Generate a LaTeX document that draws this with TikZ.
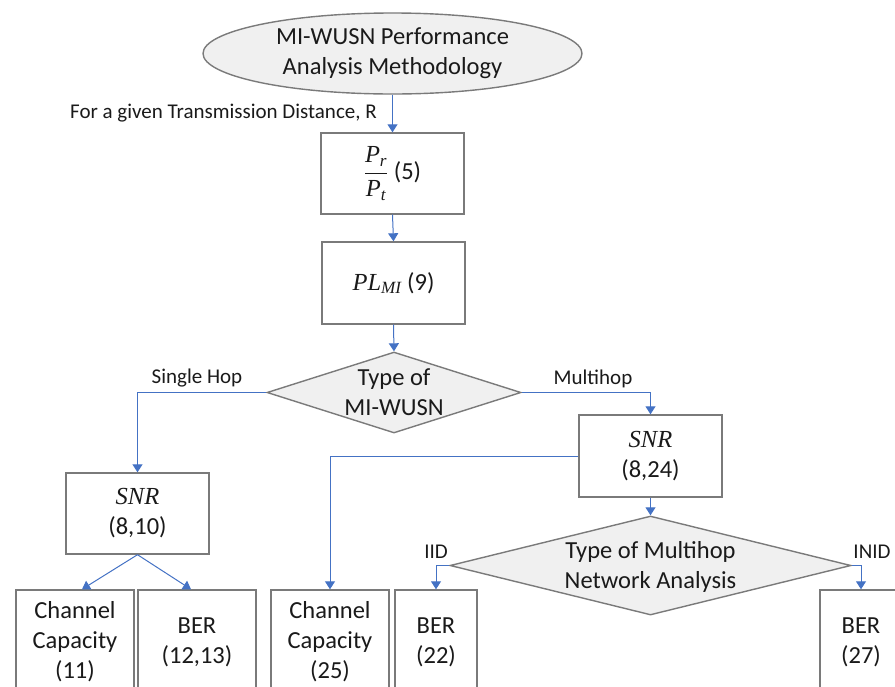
\documentclass[tikz,border=0pt]{standalone}
\usepackage{amsmath}
\usepackage{fontspec}
\setmainfont{Carlito}
\newfontfamily\symfont{Liberation Serif}
\usetikzlibrary{shapes.geometric,arrows.meta}

\definecolor{boxgray}{HTML}{7A7A7A}
\definecolor{shapefill}{HTML}{F0F0F0}
\definecolor{linkblue}{HTML}{4472C4}
\definecolor{inkblack}{HTML}{1A1A1A}

\newcommand{\mainsz}{\fontsize{24.5}{30}\selectfont}
\newcommand{\lblsz}{\fontsize{21}{25}\selectfont}
% italic serif letters for the quantities
\newcommand{\qv}[1]{\text{\symfont\itshape #1}}

\tikzset{
  shapeline/.style={draw=boxgray, line width=1.4pt},
  stepbox/.style={shapeline, rectangle, fill=white, inner sep=0pt, align=center,
    font=\mainsz, text=inkblack},
  startoval/.style={shapeline, ellipse, fill=shapefill, inner sep=0pt, align=center,
    font=\mainsz, text=inkblack, minimum width=379pt, minimum height=81pt},
  decision/.style={shapeline, diamond, fill=shapefill, inner sep=0pt},
  dtext/.style={align=center, font=\mainsz, text=inkblack, inner sep=0pt},
  edgelbl/.style={font=\lblsz, text=inkblack, inner sep=0pt, anchor=base},
  link/.style={draw=linkblue, line width=1pt, -{Triangle[width=10pt,length=8pt]}}
}

\begin{document}
\begin{tikzpicture}[x=1pt, y=-1pt]
  \useasboundingbox (0,0) rectangle (895,686);
  \clip (0,0) rectangle (895,686);

  % start of the method
  \node[startoval] (start) at (392.5,53.5) {MI-WUSN Performance\\Analysis Methodology};

  % received power ratio and path loss
  \node[stepbox, minimum width=143pt, minimum height=81pt] (ratio) at (392.5,173.5)
    {$\displaystyle\frac{\qv{P}_{\qv{r}}}{\qv{P}_{\qv{t}}}$ (5)};
  \node[stepbox, minimum width=143pt, minimum height=82pt] (loss) at (393.5,283)
    {$\qv{PL}_{\qv{MI}}$ (9)};

  % network type decision
  \node[decision, minimum width=254pt, minimum height=81pt] (kind) at (394,392.5) {};
  \node[dtext] (kindtxt) at (kind) {Type of\\MI-WUSN};

  % SNR blocks
  \node[stepbox, minimum width=143pt, minimum height=81pt] (snrone) at (137.5,513.5)
    {$\qv{SNR}$\\(8,10)};
  \node[stepbox, minimum width=143pt, minimum height=82pt] (snrmulti) at (650.5,456)
    {$\qv{SNR}$\\(8,24)};

  % multihop analysis decision
  \node[decision, minimum width=401pt, minimum height=99pt] (mhkind) at (650.5,565.5) {};
  \node[dtext] (mhkindtxt) at (650.5,567) {Type of Multihop\\Network Analysis};

  % result blocks (run past the lower edge)
  \node[stepbox, minimum width=118pt, minimum height=104pt] (capone) at (75,642)
    {Channel\\Capacity\\(11)};
  \node[stepbox, minimum width=118pt, minimum height=104pt] (berone) at (197,642)
    {BER\\(12,13)};
  \node[stepbox, minimum width=118pt, minimum height=104pt] (capmulti) at (330,642)
    {Channel\\Capacity\\(25)};
  \node[stepbox, minimum width=82pt, minimum height=104pt] (beriid) at (436,642)
    {BER\\(22)};
  \node[stepbox, minimum width=82pt, minimum height=104pt] (berinid) at (861,642)
    {BER\\(27)};

  % connectors
  \draw[link] (start.south) -- (ratio.north);
  \draw[link] (ratio.south) -- (loss.north);
  \draw[link] (loss.south) -- (kind.north);
  \draw[link] (kind.west) -| (snrone.north);
  \draw[link] (kind.east) -| (snrmulti.north);
  \draw[link] (snrone.south) -- ([xshift=7pt]capone.north);
  \draw[link] (snrone.south) -- ([xshift=-6pt]berone.north);
  \draw[link] (snrmulti.west) -| (capmulti.north);
  \draw[link] (snrmulti.south) -- (mhkind.north);
  \draw[link] (mhkind.west) -| (beriid.north);
  \draw[link] (mhkind.east) -| (berinid.north);

  % connector labels
  \node[edgelbl, anchor=base east] (given) at (377,118) {For a given Transmission Distance, R};
  \node[edgelbl] (single) at (197,383.5) {Single Hop};
  \node[edgelbl] (multi) at (593,384) {Multihop};
  \node[edgelbl] (iid) at (436,558) {IID};
  \node[edgelbl] (inid) at (872,558) {INID};
\end{tikzpicture}
\end{document}
